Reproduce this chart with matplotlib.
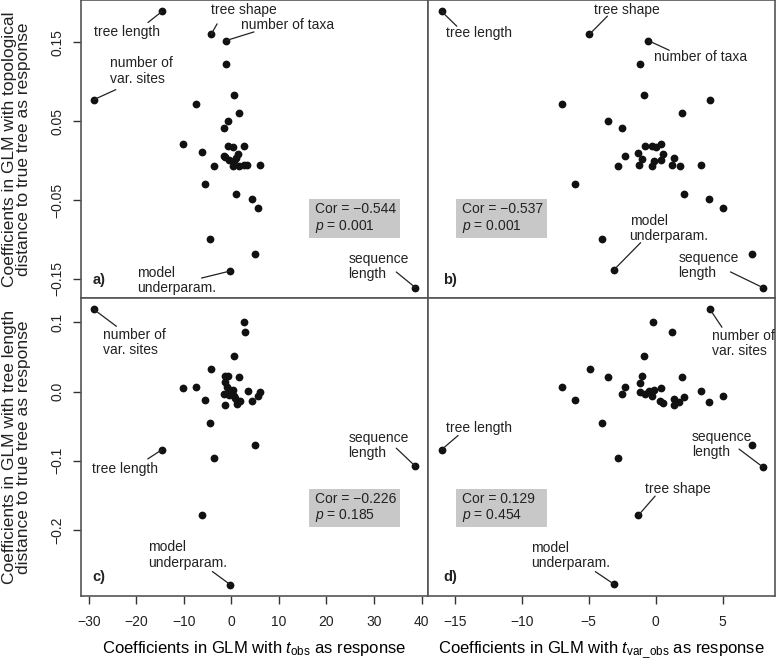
import matplotlib
matplotlib.use('Agg')
import matplotlib.pyplot as plt
from matplotlib.patches import Rectangle

plt.rcParams['font.family'] = ['Liberation Sans', 'DejaVu Sans']
plt.rcParams['mathtext.fontset'] = 'custom'
plt.rcParams['mathtext.rm'] = 'Liberation Sans'
plt.rcParams['mathtext.it'] = 'Liberation Sans:italic'

# Panel a) : t_obs coefficients vs topological distance coefficients
a_x = [-14.6, -4.25, -1.15, -1.15, -29.0, 0.65, -7.55, 1.6, -0.75, -1.5, -10.15, -0.75,
       0.25, 2.55, -6.15, -1.5, 1.35, -1.35, -0.55, 0.45, 0.95, 0.25, 1.7, 2.65, 3.35,
       6.05, -3.75, -5.65, 0.95, 4.4, 5.65, -4.6, 5.05, -0.25, 38.7]
a_y = [0.189, 0.160, 0.152, 0.122, 0.077, 0.083, 0.072, 0.060, 0.050, 0.041, 0.021, 0.018,
       0.017, 0.019, 0.011, 0.006, 0.008, 0.005, 0.001, 0.000, 0.003, -0.007, -0.007, -0.006,
       -0.006, -0.006, -0.007, -0.030, -0.042, -0.049, -0.060, -0.100, -0.119, -0.140, -0.161]

# Panel b) : t_var_obs coefficients vs topological distance coefficients
b_x = [-16.0, -4.95, -0.55, -1.15, -0.85, 4.05, -7.0, 2.0, -3.6, -2.5, -0.8, -0.25, 0.0,
       0.4, -1.3, -2.3, -1.0, -0.15, 0.55, 0.4, 1.4, -2.8, -1.25, -0.25, 1.25, 1.8, 3.35,
       -6.0, 2.1, 4.0, 5.05, -4.0, 7.2, -3.15, 8.0]
b_y = [0.189, 0.160, 0.152, 0.122, 0.083, 0.077, 0.072, 0.060, 0.050, 0.041, 0.018, 0.019,
       0.017, 0.021, 0.010, 0.006, 0.002, 0.000, 0.008, 0.001, 0.003, -0.007, -0.006, -0.007,
       -0.006, -0.007, -0.006, -0.030, -0.042, -0.049, -0.060, -0.100, -0.119, -0.139, -0.161]

# Panel c) : t_obs coefficients vs tree length distance coefficients
c_x = [-29.0, 2.55, 2.9, 0.65, -4.2, -10.15, -7.55, -5.65, -1.25, -0.65, 1.65, -1.25, -0.95,
       -0.25, 0.25, -1.5, -0.6, 0.45, 0.85, -1.35, 1.2, 1.85, 3.4, 4.4, 6.05, 5.7, -4.6,
       -14.6, 5.05, -3.75, -6.15, -0.25, 38.7, -0.6, 1.15]
c_y = [0.119, 0.101, 0.086, 0.051, 0.032, 0.005, 0.007, -0.012, 0.022, 0.022, 0.021, 0.014,
       0.007, 0.002, 0.002, -0.004, -0.005, -0.007, -0.009, -0.020, -0.018, -0.014, 0.001,
       -0.014, 0.000, -0.007, -0.045, -0.084, -0.078, -0.096, -0.179, -0.279, -0.108,
       -0.001, -0.013]

# Panel d) : t_var_obs coefficients vs tree length distance coefficients
d_x = [4.05, -0.2, 1.25, -0.85, -4.9, -3.6, 2.0, -1.05, -1.15, -7.0, -2.3, -2.55, -1.2, -0.8,
       -0.5, -0.15, 0.4, -0.3, 0.35, 0.55, 1.35, 1.4, 1.75, 2.1, 3.35, 4.0, 5.05, -6.0, -4.0,
       -16.0, -2.8, 7.2, 8.0, -1.3, -3.15]
d_y = [0.119, 0.101, 0.086, 0.051, 0.032, 0.021, 0.021, 0.022, 0.013, 0.007, 0.006, -0.004,
       0.000, -0.003, 0.001, 0.002, 0.005, -0.007, -0.013, -0.017, -0.011, -0.020, -0.015,
       -0.008, 0.001, -0.015, -0.007, -0.012, -0.045, -0.084, -0.096, -0.078, -0.109,
       -0.179, -0.278]

# labels: (text, point index, text x, text y, start of leader line relative to the text box)
a_labels = [("tree length", 0, -28.8, 0.1634, (0.81, 1.15)),
            ("tree shape", 1, -4.25, 0.1910, (0.09, -0.5)),
            ("number of taxa", 2, 2.0, 0.1719, (0.14, 0.0)),
            ("number of\nvar. sites", 4, -25.5, 0.1135, (0.09, -0.14)),
            ("model\nunderparam.", 33, -19.9, -0.1515, (0.82, 0.57)),
            ("sequence\nlength", 34, 24.65, -0.1346, (0.79, 0.32))]
b_labels = [("tree length", 0, -15.7, 0.1614, (0.17, 1.0)),
            ("tree shape", 1, -4.64, 0.1910, (0.21, 0.05)),
            ("number of taxa", 2, -0.10, 0.1309, (0.16, 1.0)),
            ("model\nunderparam.", 33, -1.95, -0.0856, (0.14, 0.0)),
            ("sequence\nlength", 34, 1.71, -0.1327, (0.86, 0.27))]
c_labels = [("number of\nvar. sites", 0, -27.1, 0.0711, (0.22, 1.05)),
            ("tree length", 27, -29.4, -0.1126, (0.85, 1.25)),
            ("model\nunderparam.", 31, -17.45, -0.2362, (0.81, -0.07)),
            ("sequence\nlength", 32, 24.65, -0.0785, (0.79, 0.42))]
d_labels = [("number of\nvar. sites", 0, 4.2, 0.0693, (0.16, 1.06)),
            ("tree length", 29, -15.7, -0.0534, (0.19, 0.0)),
            ("sequence\nlength", 32, 2.71, -0.0760, (0.78, 0.33)),
            ("tree shape", 33, -0.83, -0.1410, (0.16, 0.0)),
            ("model\nunderparam.", 34, -9.29, -0.2367, (0.81, -0.06))]

cors = ["\u22120.544", "\u22120.537", "\u22120.226", "0.129"]
pvals = ["0.001", "0.001", "0.185", "0.454"]
letters = ["a)", "b)", "c)", "d)"]

x_ticks = [[-30, -20, -10, 0, 10, 20, 30, 40], [-15, -10, -5, 0, 5]]
y_ticks = [[-0.15, -0.05, 0.05, 0.15], [-0.2, -0.1, 0.0, 0.1]]
y_ticklabels = [["\u22120.15", "\u22120.05", "0.05", "0.15"], ["\u22120.2", "\u22120.1", "0.0", "0.1"]]
x_lims = [(-31.7, 41.4), (-17.0, 8.95)]
y_lims = [(-0.1746, 0.2035), (-0.2950, 0.1347)]

ylabels = ["Coefficients in GLM with topological\ndistance to true tree as response",
           "Coefficients in GLM with tree length\ndistance to true tree as response"]
xlabels = [r"Coefficients in GLM with $t_{\mathrm{obs}}$ as response",
           r"Coefficients in GLM with $t_{\mathrm{var\_obs}}$ as response"]

panels = [(a_x, a_y, a_labels), (b_x, b_y, b_labels), (c_x, c_y, c_labels), (d_x, d_y, d_labels)]

fig = plt.figure(figsize=(7.76, 6.66), dpi=100)
col_left = [0.104, 0.5518]
col_w = [0.4478, 0.4475]
row_bottom = [0.5521, 0.1056]
row_h = [0.4479, 0.4465]
# Cor box position (axes fraction): x0, x1, y0, y1
box_x = [(0.657, 0.919), (0.080, 0.341)]
box_y = [(0.202, 0.333), (0.230, 0.359)]
letter_x = [0.035, 0.043]

for i, (xs, ys, labels) in enumerate(panels):
    r, c = divmod(i, 2)
    ax = fig.add_axes([col_left[c], row_bottom[r], col_w[c], row_h[r]])
    ax.plot(xs, ys, 'o', color='#111111', ms=5.6, mec='none')
    ax.set_xlim(x_lims[c])
    ax.set_ylim(y_lims[r])
    for s in ax.spines.values():
        s.set_color('#555555')
        s.set_linewidth(1.2)

    if r == 1:
        ax.set_xticks(x_ticks[c])
        ax.set_xticklabels([str(t).replace('-', '\u2212') for t in x_ticks[c]])
        ax.set_xlabel(xlabels[c], fontsize=12, labelpad=7)
    else:
        ax.set_xticks([])
    if c == 0:
        ax.set_yticks(y_ticks[r])
        ax.set_yticklabels(y_ticklabels[r], rotation=90, va='center')
    else:
        ax.set_yticks([])
    ax.tick_params(direction='out', length=6, width=1, color='#333333',
                   labelsize=10, pad=6, labelcolor='#222222')
    ax.tick_params(axis='x', pad=8)

    for text, idx, tx, ty, rp in labels:
        ax.annotate(text, xy=(xs[idx], ys[idx]), xytext=(tx, ty), ha='left', va='center',
                    fontsize=10, linespacing=1.1, color='#222222',
                    arrowprops=dict(arrowstyle='-', color='#222222', lw=0.9, patchA=None,
                                    shrinkA=0, shrinkB=0, relpos=rp))

    bx0, bx1 = box_x[c]
    by0, by1 = box_y[r]
    ax.add_patch(Rectangle((bx0, by0), bx1 - bx0, by1 - by0, transform=ax.transAxes,
                           facecolor='#c8c8c8', edgecolor='none', zorder=1))
    ax.text(bx0 + 0.018, (by0 + by1) / 2, f"Cor = {cors[i]}\n$p$ = {pvals[i]}",
            transform=ax.transAxes, ha='left', va='center', fontsize=10,
            linespacing=1.15, color='#222222', zorder=2)
    ax.text(letter_x[c], 0.062, letters[i], transform=ax.transAxes, ha='left',
            va='center', fontsize=10.5, fontweight='bold', color='#222222')

for r in range(2):
    fig.text(0.0215, row_bottom[r] + row_h[r] / 2, ylabels[r], rotation=90, ha='center',
             va='center', fontsize=12.5, linespacing=0.95, color='#222222')

fig.savefig('out.png', dpi=100)
